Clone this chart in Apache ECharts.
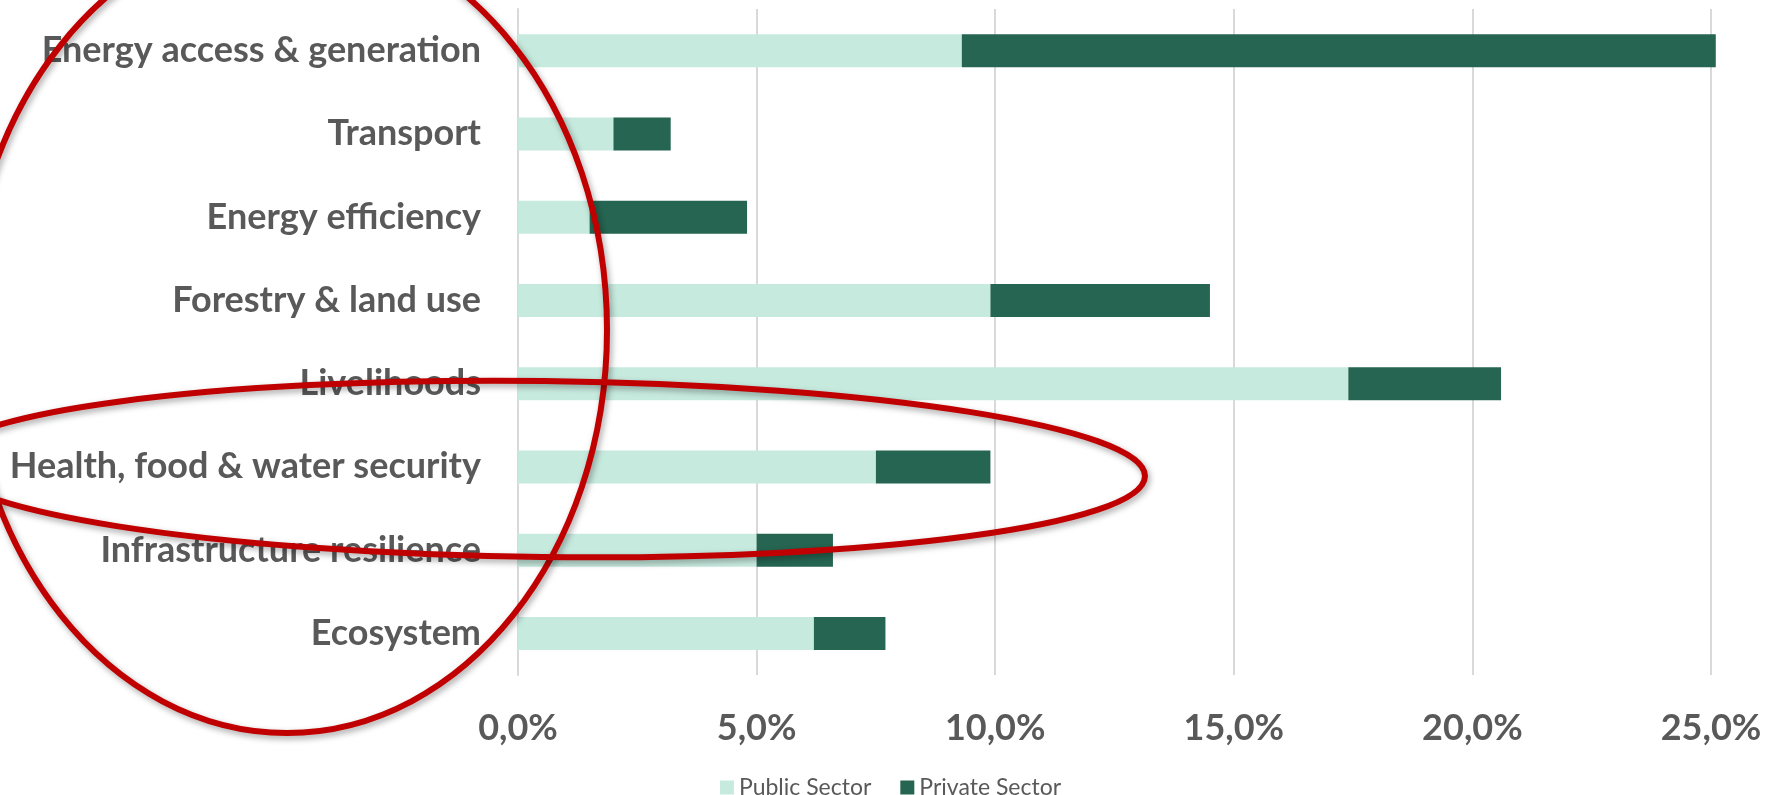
<!DOCTYPE html>
<html>
<head>
<meta charset="utf-8">
<script src="https://cdn.jsdelivr.net/npm/echarts@6/dist/echarts.min.js"></script>
<style>
html,body{margin:0;padding:0;background:#fff;}
#chart{width:1781px;height:795px;}
</style>
</head>
<body>
<div id="chart"></div>
<script>
const categories = ["Energy access & generation","Transport","Energy efficiency","Forestry & land use","Livelihoods","Health, food & water security","Infrastructure resilience","Ecosystem"];
const publicSector = [9.3, 2.0, 1.5, 9.9, 17.4, 7.5, 5.0, 6.2];
const privateSector = [15.8, 1.2, 3.3, 4.6, 3.2, 2.4, 1.6, 1.5];
const seriesNames = ["Public Sector","Private Sector"];
const xTicks = {min: 0, max: 25, interval: 5};

const chart = echarts.init(document.getElementById('chart'), null, {renderer: 'canvas'});
const grey = '#595959';
const fontFam = 'Lato, "Open Sans", sans-serif';
const ellStyle = {fill: 'none', stroke: '#C00000', lineWidth: 6, shadowBlur: 6, shadowColor: 'rgba(0,0,0,0.35)', shadowOffsetX: 2, shadowOffsetY: 3};

chart.setOption({
  animation: false,
  grid: {left: 518, right: 70, top: 9, bottom: 120, containLabel: false},
  legend: {
    data: seriesNames, left: 'center', top: 771, itemWidth: 14, itemHeight: 14, itemGap: 29,
    icon: 'rect',
    textStyle: {color: grey, fontSize: 23, fontFamily: fontFam}
  },
  xAxis: {
    type: 'value', min: xTicks.min, max: xTicks.max, interval: xTicks.interval,
    axisLine: {show: false}, axisTick: {show: false},
    splitLine: {show: true, lineStyle: {color: '#D9D9D9', width: 2}},
    axisLabel: {
      color: grey, fontSize: 36, fontWeight: 'bold', fontFamily: fontFam, margin: 35,
      formatter: v => v.toFixed(1).replace('.', ',') + '%'
    }
  },
  yAxis: {
    type: 'category', data: categories, inverse: true,
    axisTick: {show: false},
    axisLine: {show: true, lineStyle: {color: '#D9D9D9', width: 2}},
    axisLabel: {color: grey, fontSize: 36, fontWeight: 'bold', fontFamily: fontFam, margin: 37}
  },
  series: [
    {name: seriesNames[0], type: 'bar', stack: 'total', data: publicSector, barWidth: 33, clip: false,
     itemStyle: {color: '#C7EADF'}},
    {name: seriesNames[1], type: 'bar', stack: 'total', data: privateSector, barWidth: 33, clip: false,
     itemStyle: {color: '#256551'}}
  ],
  graphic: [
    {type: 'ellipse', x: 287, y: 330, shape: {cx: 0, cy: 0, rx: 320, ry: 403}, style: ellStyle, z: 100, silent: true},
    {type: 'ellipse', x: 543, y: 469, rotation: -0.012, shape: {cx: 0, cy: 0, rx: 602, ry: 88}, style: ellStyle, z: 100, silent: true}
  ]
});
</script>
</body>
</html>
